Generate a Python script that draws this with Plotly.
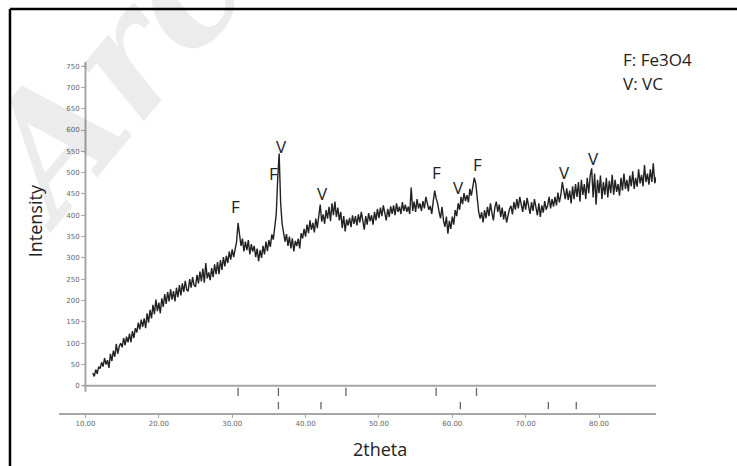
import numpy as np
import plotly.graph_objects as go

# ---- data ----
SCAN_START = 11.0
SCAN_STEP = 0.2
intensity = [
    30, 22, 38, 28, 45,
    40, 55, 45, 65, 50,
    60, 42, 75, 58, 82,
    68, 98, 75, 92, 100,
    90, 112, 95, 115, 102,
    122, 102, 128, 112, 135,
    125, 148, 132, 155, 138,
    158, 135, 170, 148, 178,
    158, 190, 168, 202, 175,
    195, 170, 205, 185, 215,
    192, 220, 198, 226, 202,
    222, 198, 230, 208, 236,
    212, 240, 220, 246, 225,
    222, 250, 230, 255, 236,
    232, 260, 240, 268, 245,
    275, 242, 288, 252, 266,
    248, 276, 255, 285, 262,
    290, 262, 295, 272, 302,
    280, 305, 288, 315, 296,
    320, 302, 325, 338, 382,
    350, 328, 345, 315, 338,
    318, 342, 308, 332, 315,
    328, 302, 322, 292, 318,
    300, 328, 308, 338, 316,
    342, 326, 355, 343, 372,
    402, 485, 545, 430, 380,
    360, 338, 356, 328, 350,
    322, 346, 315, 340, 328,
    345, 322, 358, 346, 368,
    350, 378, 358, 388, 366,
    382, 360, 392, 370, 398,
    425, 385, 402, 380, 412,
    392, 420, 386, 428, 400,
    432, 396, 418, 388, 408,
    370, 398, 362, 390, 376,
    394, 372, 400, 380, 398,
    376, 402, 383, 408, 388,
    366, 398, 378, 405, 386,
    400, 378, 408, 388, 415,
    393, 418, 398, 423, 403,
    388, 415, 396, 421, 403,
    423, 400, 428, 408, 420,
    403, 431, 410, 425, 408,
    420, 403, 465, 410, 432,
    408, 438, 416, 428, 410,
    433, 416, 443, 423, 413,
    422, 403, 432, 458, 440,
    428, 408, 393, 420, 388,
    373, 397, 357, 387, 368,
    397, 378, 412, 398, 428,
    413, 443, 426, 452, 433,
    447, 430, 462, 446, 472,
    488, 475, 440, 408, 392,
    407, 383, 412, 393, 420,
    398, 428, 406, 388, 418,
    432, 408, 425, 396, 418,
    390, 410, 383, 403, 415,
    422, 402, 431, 413, 438,
    416, 443, 422, 408, 435,
    413, 441, 420, 403, 431,
    410, 438, 416, 400, 428,
    396, 423, 406, 433, 413,
    423, 443, 416, 438, 420,
    443, 423, 453, 430, 448,
    478, 452, 438, 463, 436,
    458, 428, 468, 438, 473,
    443, 478, 432, 483, 448,
    473, 438, 488, 452, 493,
    510, 442, 498, 425, 483,
    452, 493, 438, 478, 448,
    488, 442, 481, 452, 495,
    448, 483, 455, 473, 446,
    488, 458, 498, 462, 483,
    456, 493, 468, 503, 462,
    488, 467, 508, 475, 495,
    468, 518, 478, 498, 472,
    508, 478, 522, 475, 490,
]
two_theta = np.round(SCAN_START + SCAN_STEP * np.arange(len(intensity)), 1)

fe3o4_ref = [30.8, 36.3, 45.5, 57.8, 63.3]
vc_ref = [36.3, 42.1, 61.1, 73.1, 76.9]

peak_labels = ["F", "F", "V", "V", "F", "V", "F", "V", "V"]
peak_label_x = [30.5, 35.6, 36.7, 42.3, 57.8, 60.8, 63.5, 75.3, 79.2]
peak_label_y = [421, 498, 561, 451, 500, 466, 519, 500, 533]

y_ticks = [0, 50, 100, 150, 200, 250, 300, 350, 400, 450, 500, 550, 600, 650, 700, 750]
x_ticks = [10, 20, 30, 40, 50, 60, 70, 80]

# ---- figure ----
AX_GRAY = "#a6a6a6"
TXT_FONT = "Open Sans"

def ref_lines(pos, y0, y1):
    xs, ys = [], []
    for p in pos:
        xs += [p, p, None]
        ys += [y0, y1, None]
    return xs, ys

fig = go.Figure()
fig.add_trace(go.Scatter(x=two_theta, y=intensity, mode="lines",
                         line=dict(color="#222", width=1.4), hoverinfo="skip"))
fx, fy = ref_lines(fe3o4_ref, -5, -24)
fig.add_trace(go.Scatter(x=fx, y=fy, mode="lines", line=dict(color="#666", width=1.3)))
vx, vy = ref_lines(vc_ref, -38, -55)
fig.add_trace(go.Scatter(x=vx, y=vy, mode="lines", line=dict(color="#666", width=1.3)))

for t, x, y in zip(peak_labels, peak_label_x, peak_label_y):
    fig.add_annotation(x=x, y=y, text=t, showarrow=False, xanchor="center", yanchor="middle",
                       font=dict(family=TXT_FONT, size=17, color="#222"))

# watermark (semi-transparent so that ticks stay visible)
fig.add_annotation(xref="paper", yref="paper", x=0.085, y=0.96, text="<b><i>Arc</i></b>",
                   showarrow=False, textangle=-50, xanchor="center", yanchor="middle",
                   font=dict(family="DejaVu Serif", size=160, color="rgba(0,0,0,0.075)"))

fig.add_annotation(xref="paper", yref="paper", x=0.941, y=1.003, xanchor="left", yanchor="middle",
                   text="F: Fe3O4", showarrow=False,
                   font=dict(family=TXT_FONT, size=17, color="#222"))
fig.add_annotation(xref="paper", yref="paper", x=0.941, y=0.935, xanchor="left", yanchor="middle",
                   text="V: VC", showarrow=False,
                   font=dict(family=TXT_FONT, size=17, color="#222"))
fig.add_annotation(xref="paper", yref="paper", x=-0.040, y=0.545, text="Intensity",
                   textangle=-90, showarrow=False, xanchor="center", yanchor="middle",
                   font=dict(family=TXT_FONT, size=18, color="#222"))
fig.add_annotation(xref="paper", yref="paper", x=0.538, y=-0.102, text="2theta",
                   showarrow=False, xanchor="center", yanchor="middle",
                   font=dict(family=TXT_FONT, size=18, color="#222"))

# axis lines of the upper panel
fig.add_shape(type="line", xref="x", yref="y", x0=9.7, x1=87.77, y0=0, y1=0,
              line=dict(color=AX_GRAY, width=2))
fig.add_shape(type="line", xref="x", yref="y", x0=10.0, x1=10.0, y0=-14, y1=760,
              line=dict(color=AX_GRAY, width=2))
# frame
fig.add_shape(type="line", xref="paper", yref="paper", x0=-0.0821, x1=1.2, y0=1.1477, y1=1.1477,
              line=dict(color="black", width=2.5))
fig.add_shape(type="line", xref="paper", yref="paper", x0=-0.0821, x1=-0.0821, y0=1.1477, y1=-0.2,
              line=dict(color="black", width=2.5))

fig.update_layout(
    width=737, height=466,
    margin=dict(l=59, r=81, t=61, b=53),
    paper_bgcolor="white", plot_bgcolor="white",
    showlegend=False,
    xaxis=dict(range=[6.39, 87.77], tickvals=x_ticks, tickformat=".2f",
               showline=True, linecolor=AX_GRAY, linewidth=2, ticks="outside",
               ticklen=3, tickcolor=AX_GRAY, showgrid=False, zeroline=False,
               tickfont=dict(family="DejaVu Sans", size=7, color="#666")),
    yaxis=dict(range=[-64, 762], tickvals=y_ticks, anchor="free", position=0.0436,
               showline=False, ticks="outside", ticklen=4, tickcolor=AX_GRAY,
               showgrid=False, zeroline=False,
               tickfont=dict(family="DejaVu Sans", size=7, color="#666")),
)

fig.write_html("out.html", config={"displayModeBar": False},
               post_script="document.body.style.margin='0';")
